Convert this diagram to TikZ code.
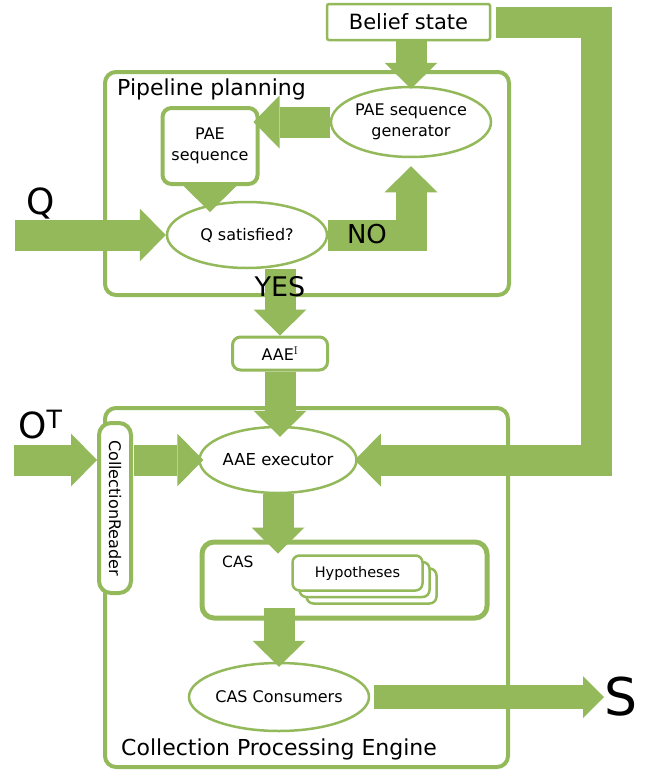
\documentclass[tikz,border=0pt]{standalone}
\usepackage{fontspec}
\newfontfamily\dejavu{DejaVu Sans}
\usetikzlibrary{shapes.geometric, calc, arrows.meta}
\definecolor{leaf}{RGB}{147,185,91}

\begin{document}
\begin{tikzpicture}[x=1pt, y=-1pt,
  blob/.style={ellipse, draw=leaf, line width=2.5pt, fill=white, inner sep=0pt, align=center,
               font=\dejavu\fontsize{16}{21}\selectfont},
  card/.style={rectangle, rounded corners=9pt, draw=leaf, line width=3.5pt, fill=white, inner sep=0pt,
               align=center, font=\dejavu\fontsize{16}{21}\selectfont},
  panel/.style={rectangle, rounded corners=11pt, draw=leaf, line width=4pt, inner sep=0pt},
  sheet/.style={card, line width=2.5pt, rounded corners=7pt, minimum width=130pt, minimum height=35pt,
                font=\dejavu\fontsize{14.5}{17}\selectfont},
  title/.style={anchor=west, inner sep=0pt, font=\dejavu\fontsize{22}{26}\selectfont},
  flow/.style={line width=31pt, draw=leaf, >={Triangle[length=26pt,width=53pt,line width=0pt]}, ->},
  thinflow/.style={line width=24pt, draw=leaf, >={Triangle[length=21pt,width=42pt,line width=0pt]}, ->},
  big/.style={inner sep=0pt, font=\dejavu\fontsize{#1}{#1}\selectfont}]
\useasboundingbox (0,0) rectangle (649,771);

% frames
\node[panel, minimum width=404pt, minimum height=223pt] (plan) at (307,183.5) {};
\node[title] (plantitle) at (117,89) {Pipeline planning};
\node[panel, minimum width=403pt, minimum height=359pt] (cpe) at (306.5,587.5) {};
\node[title] (cpetitle) at (121,749) {Collection Processing Engine};

% planning part
\node[card, line width=2.5pt, rounded corners=2pt, minimum width=163pt, minimum height=36pt,
      font=\dejavu\fontsize{21}{25}\selectfont] (belief) at (408.5,22) {Belief state};
\node[blob, minimum width=160pt, minimum height=70pt] (gen) at (411,122) {PAE sequence\\generator};
\node[card, line width=4pt, minimum width=95pt, minimum height=76pt] (pae) at (210,146) {PAE\\sequence};
\node[blob, minimum width=160pt, minimum height=66pt] (qsat) at (247,235) {Q satisfied?};
\node[card, line width=3pt, rounded corners=8pt, minimum width=95pt, minimum height=33pt] (aaei) at (280,353.5)
      {AAE\textsuperscript{\rmfamily I}};

% engine part
\node[blob, minimum width=157pt, minimum height=66pt, font=\dejavu\fontsize{16.5}{20}\selectfont] (exec) at (278,460) {AAE executor};
\node[card, line width=4pt, rounded corners=12pt, rotate=-90, minimum width=170pt, minimum height=32pt,
      font=\dejavu\fontsize{16}{20}\selectfont] (reader) at (115,508) {CollectionReader};
\node[card, line width=5pt, rounded corners=12pt, minimum width=285pt, minimum height=76pt] (cas) at (344.5,580) {};
\node[anchor=west, inner sep=0pt, font=\dejavu\fontsize{15.5}{18}\selectfont] (caslbl) at (222,562) {CAS};
\foreach \k in {2,1} \node[sheet] (hyp\k) at (357.5+7*\k,573+6.5*\k) {};
\node[sheet] (hyp0) at (357.5,573) {Hypotheses};
\node[blob, minimum width=162pt, minimum height=68pt] (cons) at (279,697) {CAS Consumers};

% inputs and output
\node[big=36, anchor=base west] (q) at (26,214) {Q};
\node[big=36, anchor=base west] (ot) at (18,438) {O\textsuperscript{T}};
\node[big=52, anchor=base west] (s) at (604,715) {S};
\coordinate (qin) at (15,235);
\coordinate (otin) at (14,460);
\coordinate (bend) at (596,460);

% block arrows
\draw[flow] (belief.south -| gen.north) -- ($(gen.north)+(0,3)$);
\draw[flow] (gen.west) -- ($(gen.west -| pae.east)+(-6,0)$);
\draw[flow] (pae.south) -- ($(pae.south)+(0,26)$);
\draw[flow] (qin) -- (qsat.west);
\draw[flow] (qsat.east) -| ($(gen.south)+(0,8)$);
\draw[flow] ($(aaei.north)+(0,-67)$) -- (aaei.north);
\draw[flow] (aaei.south) -- ($(aaei.south |- exec.north)+(0,11)$);
\draw[flow] ($(belief.east)+(5,0)$) -| (bend) -- ($(exec.east)+(-3,0)$);
\draw[flow] (otin) -- (otin -| reader.south);
\draw[flow] ($(reader.north |- exec.west)+(1,0)$) -- ($(exec.west)+(5,0)$);
\draw[flow] (exec.south) -- ($(exec.south |- cas.north)+(0,14)$);
\draw[flow] ($(cas.south -| cons.north)+(0,-13)$) -- ($(cons.north)+(0,5)$);
\draw[thinflow] ($(cons.east)+(4,0)$) -- (cons.east -| s.west);

\node[big=26] (no) at (367,234) {NO};
\node[big=27] (yes) at (280,287) {YES};
\end{tikzpicture}
\end{document}
